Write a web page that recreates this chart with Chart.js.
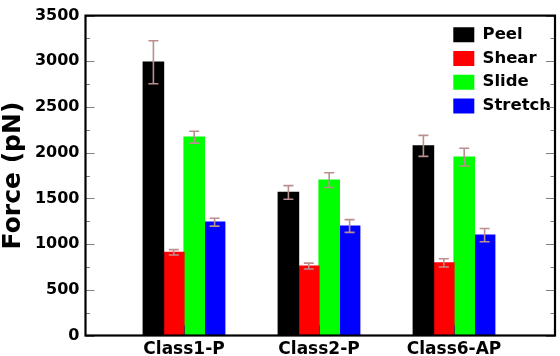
<!DOCTYPE html>
<html><head><meta charset="utf-8">
<script src="https://cdn.jsdelivr.net/npm/chart.js@4/dist/chart.umd.min.js"></script>
<style>html,body{margin:0;padding:0;background:#fff;} canvas{display:block;}</style>
</head><body>
<canvas id="c" width="560" height="356"></canvas>
<script>
// ---- data ----
const categories = ['Class1-P', 'Class2-P', 'Class6-AP'];
const seriesNames = ['Peel', 'Shear', 'Slide', 'Stretch'];
const peel    = [2990, 1565, 2075];
const shear   = [910, 760, 795];
const slide   = [2170, 1700, 1952];
const stretch = [1240, 1198, 1098];
const peelErr    = [235, 75, 115];
const shearErr   = [30, 32, 45];
const slideErr   = [65, 80, 97];
const stretchErr = [43, 70, 73];
const yMin = 0, yMax = 3500, yMajorStep = 500, yMinorStep = 250;
const yTitle = 'Force (pN)';

const seriesValues = [peel, shear, slide, stretch];
const seriesErrors = [peelErr, shearErr, slideErr, stretchErr];
const seriesColors = ['#000000', '#ff0000', '#00ff00', '#0000ff'];

const FONT = 'DejaVu Sans';

const datasets = seriesNames.map((name, s) => ({
  label: name,
  data: seriesValues[s].map((v, i) => ({x: i + 1, y: v})),
  errors: seriesErrors[s],
  backgroundColor: seriesColors[s],
  borderWidth: 0,
  inflateAmount: 0.6,
  categoryPercentage: 0.6044,
  barPercentage: 1.0
}));

const errorBars = {
  id: 'errorBars',
  afterDatasetsDraw(chart) {
    const ctx = chart.ctx, ys = chart.scales.y;
    ctx.save();
    ctx.strokeStyle = '#bc8f8f';
    ctx.lineWidth = 1.6;
    chart.data.datasets.forEach((ds, i) => {
      const meta = chart.getDatasetMeta(i);
      meta.data.forEach((bar, j) => {
        const v = ds.data[j].y, e = ds.errors[j];
        const x = bar.x;
        const t = ys.getPixelForValue(v + e), b = ys.getPixelForValue(v - e);
        ctx.beginPath();
        ctx.moveTo(x, t); ctx.lineTo(x, b);
        ctx.moveTo(x - 5, t); ctx.lineTo(x + 5, t);
        ctx.moveTo(x - 5, b); ctx.lineTo(x + 5, b);
        ctx.stroke();
      });
    });
    ctx.restore();
  }
};

const frameTicks = {
  id: 'frameTicks',
  afterDraw(chart) {
    const ctx = chart.ctx, a = chart.chartArea, ys = chart.scales.y, xs = chart.scales.x;
    ctx.save();
    ctx.strokeStyle = '#808080';
    ctx.lineWidth = 1;
    ys.ticks.forEach(t => {
      const py = Math.round(ys.getPixelForValue(t.value)) + 0.5;
      const len = (t.value % yMajorStep === 0) ? 9 : 4.5;
      ctx.beginPath();
      ctx.moveTo(a.left, py); ctx.lineTo(a.left + len, py);
      ctx.moveTo(a.right, py); ctx.lineTo(a.right - len, py);
      ctx.stroke();
    });
    ctx.strokeStyle = '#404040';
    xs.ticks.forEach(t => {
      const px = Math.round(xs.getPixelForValue(t.value)) + 0.5;
      ctx.beginPath();
      ctx.moveTo(px, a.bottom); ctx.lineTo(px, a.bottom - 10);
      ctx.stroke();
    });
    ctx.strokeStyle = '#000';
    ctx.lineWidth = 2.2;
    ctx.strokeRect(a.left, a.top, a.right - a.left, a.bottom - a.top);
    ctx.restore();
  }
};

const legendPlace = {
  id: 'legendPlace',
  beforeDraw(chart) {
    const lg = chart.legend;
    if (!lg) return;
    const w = lg.width;
    lg.left = 446.1;
    lg.top = 19.35;
    lg.right = lg.left + w;
    lg.bottom = chart.chartArea.bottom;
  }
};

new Chart(document.getElementById('c'), {
  type: 'bar',
  data: { datasets },
  plugins: [errorBars, frameTicks, legendPlace],
  options: {
    responsive: false,
    animation: false,
    events: [],
    layout: { padding: { top: 9.5, right: 5, left: 0, bottom: 0 } },
    plugins: {
      tooltip: { enabled: false },
      legend: {
        position: 'chartArea',
        align: 'start',
        labels: {
          boxWidth: 21,
          boxHeight: 15,
          padding: 7.2,
          color: '#000',
          font: { family: FONT, weight: 'bold', size: 16.5 }
        }
      }
    },
    scales: {
      x: {
        type: 'linear',
        offset: false,
        min: 0.27037,
        max: 3.74815,
        grid: { display: false, drawTicks: false },
        border: { display: false },
        afterBuildTicks: s => { s.ticks = categories.map((c, i) => ({ value: i + 1 })); },
        afterFit: s => { s.height = 20.5; },
        ticks: {
          autoSkip: false,
          maxRotation: 0,
          padding: 3.5,
          color: '#000',
          font: { family: FONT, weight: 'bold', size: 17 },
          callback: (v, i) => categories[i]
        }
      },
      y: {
        min: yMin,
        max: yMax,
        grid: { display: false, drawTicks: false },
        border: { display: false },
        afterFit: s => { s.width = 85.5; },
        ticks: {
          stepSize: yMinorStep,
          autoSkip: false,
          padding: 6,
          color: '#000',
          font: { family: FONT, weight: 'bold', size: 16 },
          callback: v => (v % yMajorStep === 0 ? String(v) : '')
        },
        title: {
          display: true,
          text: yTitle,
          color: '#000',
          padding: { top: 1, bottom: 0 },
          font: { family: FONT, weight: 'bold', size: 25, lineHeight: 1 }
        }
      }
    }
  }
});
</script>
</body></html>
